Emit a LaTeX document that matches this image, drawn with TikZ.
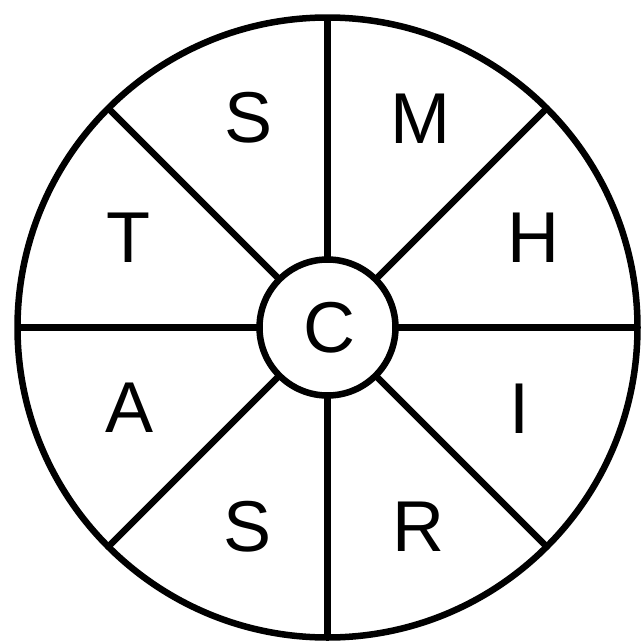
\documentclass[tikz,border=0pt]{standalone}
\usepackage{fontspec}
\setmainfont{Liberation Sans}
\usetikzlibrary{calc}
\begin{document}
\begin{tikzpicture}[x=1pt,y=-1pt,
  ln/.style={line width=6.5pt},
  lbl/.style={font=\fontsize{72}{72}\selectfont, inner sep=0pt}]
\useasboundingbox (0,0) rectangle (641,643);
\coordinate (O) at (327.5,327.5);
\draw[ln] (O) circle[radius=310];
\foreach \a in {0,45,...,315}{
  \draw[ln] ($(O)+(\a:68)$) -- ($(O)+(\a:310)$);
}
\draw[ln, fill=white] (O) circle[radius=68];
\node[lbl] (c) at (329,328) {C};
\node[lbl] (s1) at (249,118) {S};
\node[lbl] (m) at (420,119) {M};
\node[lbl] (t) at (128,238) {T};
\node[lbl] (h) at (533,238) {H};
\node[lbl] (a) at (130,408) {A};
\node[lbl] (i) at (519,409) {I};
\node[lbl] (s2) at (248,527) {S};
\node[lbl] (r) at (418,527) {R};
\end{tikzpicture}
\end{document}
